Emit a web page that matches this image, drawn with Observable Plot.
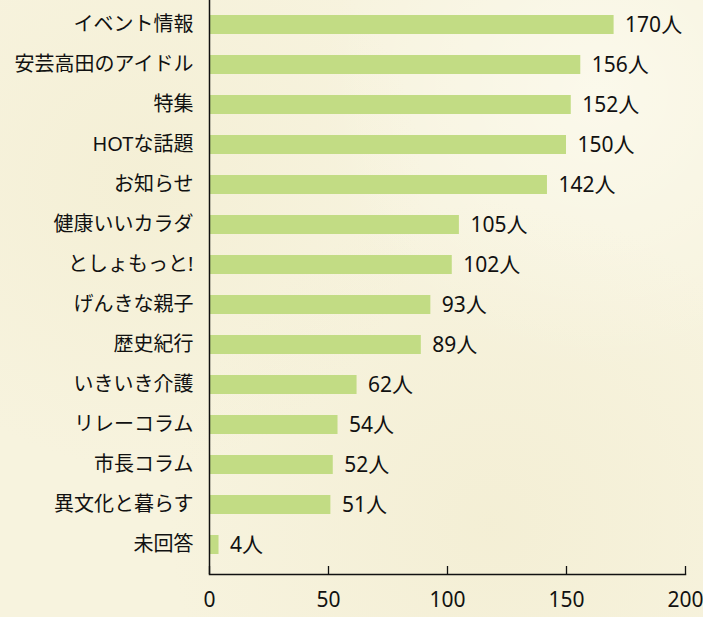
<!DOCTYPE html>
<html>
<head>
<meta charset="utf-8">
<script src="https://cdn.jsdelivr.net/npm/d3@7"></script>
<script src="https://cdn.jsdelivr.net/npm/@observablehq/plot@0.6"></script>
<style>
  html, body { margin: 0; padding: 0; }
  body {
    width: 703px; height: 617px; overflow: hidden;
    background-color: #f7f3de;
    background-image:
      radial-gradient(circle at 20% 30%, rgba(236,228,188,0.25), transparent 40%),
      radial-gradient(circle at 70% 85%, rgba(234,226,186,0.25), transparent 45%),
      radial-gradient(circle at 85% 15%, rgba(255,255,248,0.5), transparent 35%);
  }
  #chart svg { display: block; }
</style>
</head>
<body>
<div id="chart"></div>
<script>
const categories = ["イベント情報","安芸高田のアイドル","特集","HOTな話題","お知らせ","健康いいカラダ","としょもっと!","げんきな親子","歴史紀行","いきいき介護","リレーコラム","市長コラム","異文化と暮らす","未回答"];
const values = [170,156,152,150,142,105,102,93,89,62,54,52,51,4];
const xTicks = [0,50,100,150,200];
const unit = "人";

const data = categories.map((c, i) => ({name: c, value: values[i]}));
const font = "'Noto Sans', 'Noto Sans CJK JP', sans-serif";

const chart = Plot.plot({
  width: 703,
  height: 617,
  marginLeft: 209,
  marginRight: 18,
  marginTop: 0,
  marginBottom: 43,
  style: {background: "transparent", fontFamily: font, fontSize: "20px", color: "#111"},
  x: {domain: [0, 200], ticks: xTicks, label: null},
  y: {domain: categories, paddingInner: 0.525, paddingOuter: 0.2625, insetTop: 4, insetBottom: 10, label: null},
  marks: [
    Plot.barX(data, {y: "name", x: "value", fill: "#c2dc84"}),
    Plot.text(data, {y: "name", x: "value", text: d => d.value + unit, dx: 11, textAnchor: "start", fontSize: 21, fill: "#111"}),
    Plot.ruleX(xTicks, {x: d => d, insetTop: 566, stroke: "#111", strokeWidth: 1.3}),
    Plot.ruleX([0], {stroke: "#111", strokeWidth: 1.5}),
    Plot.frame({anchor: "bottom", stroke: "#111", strokeWidth: 1.5}),
    Plot.axisX({ticks: xTicks, tickSize: 0, tickPadding: 18, fontSize: 21, label: null}),
    Plot.axisY({tickSize: 0, tickPadding: 16, fontSize: 20, label: null})
  ]
});
document.getElementById("chart").appendChild(chart);
</script>
</body>
</html>
